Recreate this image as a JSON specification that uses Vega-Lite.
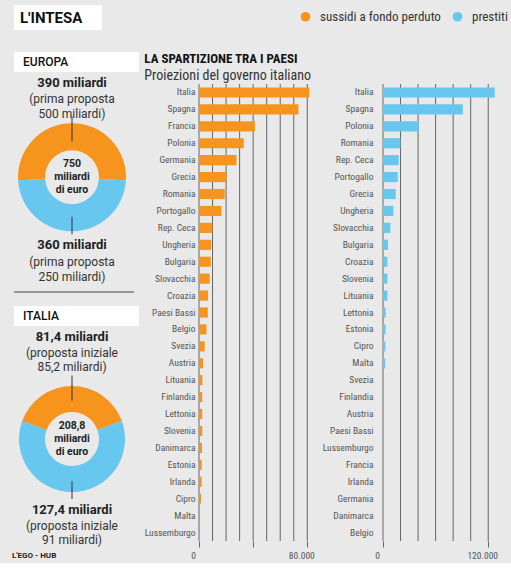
{
  "$schema": "https://vega.github.io/schema/vega-lite/v6.json",
  "background": "#e9e9e9",
  "padding": {"left": 12, "top": 5, "right": 13, "bottom": 0},
  "datasets": {
    "totali": [
      {"area": "Europa", "tipo": "sussidi a fondo perduto", "miliardi": 390},
      {"area": "Europa", "tipo": "prestiti", "miliardi": 360},
      {"area": "Italia", "tipo": "sussidi a fondo perduto", "miliardi": 81.4},
      {"area": "Italia", "tipo": "prestiti", "miliardi": 127.4}
    ],
    "griglia_sussidi": [
      {"valore": 0}, {"valore": 10000}, {"valore": 20000}, {"valore": 30000}, {"valore": 40000},
      {"valore": 50000}, {"valore": 60000}, {"valore": 70000}, {"valore": 80000}
    ],
    "griglia_prestiti": [
      {"valore": 0}, {"valore": 20000}, {"valore": 40000}, {"valore": 60000},
      {"valore": 80000}, {"valore": 100000}, {"valore": 120000}
    ],
    "paesi": [
      {"paese": "Italia", "tipo": "sussidi a fondo perduto", "milioni": 81400},
      {"paese": "Spagna", "tipo": "sussidi a fondo perduto", "milioni": 73500},
      {"paese": "Francia", "tipo": "sussidi a fondo perduto", "milioni": 41300},
      {"paese": "Polonia", "tipo": "sussidi a fondo perduto", "milioni": 33100},
      {"paese": "Germania", "tipo": "sussidi a fondo perduto", "milioni": 27700},
      {"paese": "Grecia", "tipo": "sussidi a fondo perduto", "milioni": 20300},
      {"paese": "Romania", "tipo": "sussidi a fondo perduto", "milioni": 19000},
      {"paese": "Portogallo", "tipo": "sussidi a fondo perduto", "milioni": 16600},
      {"paese": "Rep. Ceca", "tipo": "sussidi a fondo perduto", "milioni": 9900},
      {"paese": "Ungheria", "tipo": "sussidi a fondo perduto", "milioni": 8900},
      {"paese": "Bulgaria", "tipo": "sussidi a fondo perduto", "milioni": 8700},
      {"paese": "Slovacchia", "tipo": "sussidi a fondo perduto", "milioni": 7900},
      {"paese": "Croazia", "tipo": "sussidi a fondo perduto", "milioni": 6700},
      {"paese": "Paesi Bassi", "tipo": "sussidi a fondo perduto", "milioni": 6500},
      {"paese": "Belgio", "tipo": "sussidi a fondo perduto", "milioni": 5500},
      {"paese": "Svezia", "tipo": "sussidi a fondo perduto", "milioni": 4200},
      {"paese": "Austria", "tipo": "sussidi a fondo perduto", "milioni": 3000},
      {"paese": "Lituania", "tipo": "sussidi a fondo perduto", "milioni": 2500},
      {"paese": "Finlandia", "tipo": "sussidi a fondo perduto", "milioni": 2400},
      {"paese": "Lettonia", "tipo": "sussidi a fondo perduto", "milioni": 2400},
      {"paese": "Slovenia", "tipo": "sussidi a fondo perduto", "milioni": 2400},
      {"paese": "Danimarca", "tipo": "sussidi a fondo perduto", "milioni": 2200},
      {"paese": "Estonia", "tipo": "sussidi a fondo perduto", "milioni": 2000},
      {"paese": "Irlanda", "tipo": "sussidi a fondo perduto", "milioni": 2000},
      {"paese": "Cipro", "tipo": "sussidi a fondo perduto", "milioni": 1500},
      {"paese": "Malta", "tipo": "sussidi a fondo perduto", "milioni": 500},
      {"paese": "Lussemburgo", "tipo": "sussidi a fondo perduto", "milioni": 200},
      {"paese": "Italia", "tipo": "prestiti", "milioni": 127400},
      {"paese": "Spagna", "tipo": "prestiti", "milioni": 91000},
      {"paese": "Polonia", "tipo": "prestiti", "milioni": 40800},
      {"paese": "Romania", "tipo": "prestiti", "milioni": 19800},
      {"paese": "Rep. Ceca", "tipo": "prestiti", "milioni": 17900},
      {"paese": "Portogallo", "tipo": "prestiti", "milioni": 16800},
      {"paese": "Grecia", "tipo": "prestiti", "milioni": 14500},
      {"paese": "Ungheria", "tipo": "prestiti", "milioni": 11800},
      {"paese": "Slovacchia", "tipo": "prestiti", "milioni": 8400},
      {"paese": "Bulgaria", "tipo": "prestiti", "milioni": 5700},
      {"paese": "Croazia", "tipo": "prestiti", "milioni": 5000},
      {"paese": "Slovenia", "tipo": "prestiti", "milioni": 5000},
      {"paese": "Lituania", "tipo": "prestiti", "milioni": 5000},
      {"paese": "Lettonia", "tipo": "prestiti", "milioni": 3000},
      {"paese": "Estonia", "tipo": "prestiti", "milioni": 3000},
      {"paese": "Cipro", "tipo": "prestiti", "milioni": 2700},
      {"paese": "Malta", "tipo": "prestiti", "milioni": 2500},
      {"paese": "Svezia", "tipo": "prestiti", "milioni": 0},
      {"paese": "Finlandia", "tipo": "prestiti", "milioni": 0},
      {"paese": "Austria", "tipo": "prestiti", "milioni": 0},
      {"paese": "Paesi Bassi", "tipo": "prestiti", "milioni": 0},
      {"paese": "Lussemburgo", "tipo": "prestiti", "milioni": 0},
      {"paese": "Francia", "tipo": "prestiti", "milioni": 0},
      {"paese": "Irlanda", "tipo": "prestiti", "milioni": 0},
      {"paese": "Germania", "tipo": "prestiti", "milioni": 0},
      {"paese": "Danimarca", "tipo": "prestiti", "milioni": 0},
      {"paese": "Belgio", "tipo": "prestiti", "milioni": 0}
    ]
  },
  "config": {
    "view": {"stroke": null},
    "font": "Roboto",
    "title": {"font": "Roboto", "color": "#1a1a1a", "subtitleFont": "Roboto", "subtitleColor": "#333333"},
    "axis": {"labelFont": "Liberation Sans Narrow, Roboto Condensed, DejaVu Sans Condensed, sans-serif", "labelColor": "#555555", "labelFontSize": 9.5}
  },
  "spacing": 5,
  "hconcat": [
    {
      "spacing": 22,
      "vconcat": [
        {
          "width": 88,
          "height": 25,
          "view": {"fill": "#ffffff", "stroke": null},
          "data": {"values": [{"titolo": "L'INTESA"}]},
          "mark": {"type": "text", "align": "left", "baseline": "middle", "dx": 6, "fontSize": 15, "fontWeight": "bold", "color": "#111111"},
          "encoding": {
            "text": {"field": "titolo"},
            "x": {"datum": 0, "scale": {"domain": [0, 1]}, "axis": null}
          }
        },
        {
          "spacing": 4,
          "vconcat": [
            {
              "width": 125,
              "height": 20,
              "view": {"fill": "#ffffff", "stroke": null},
              "data": {"values": [{"etichetta": "EUROPA"}]},
              "mark": {"type": "text", "align": "left", "baseline": "middle", "dx": 9, "fontSize": 12, "fontWeight": 500, "color": "#111111"},
              "encoding": {
                "text": {"field": "etichetta"},
                "x": {"datum": 0, "scale": {"domain": [0, 1]}, "axis": null}
              }
            },
            {
              "width": 116,
              "height": 96.35,
              "title": {"text": "390 miliardi", "subtitle": ["(prima proposta", "500 miliardi)"], "fontSize": 13, "fontWeight": "bold", "color": "#222222", "subtitleFontSize": 12, "subtitleLineHeight": 15, "subtitlePadding": 4.3, "offset": -3.6, "anchor": "middle"},
              "layer": [
                {
                  "data": {"name": "totali"},
                  "transform": [{"filter": "datum.area === 'Europa'"}],
                  "mark": {"type": "arc", "radius": 54, "radius2": 27},
                  "encoding": {
                    "theta": {"field": "miliardi", "type": "quantitative", "stack": true, "scale": {"range": [-1.6336, 4.6496]}},
                    "order": {"field": "tipo", "sort": "descending"},
                    "color": {"field": "tipo", "type": "nominal", "scale": {"domain": ["sussidi a fondo perduto", "prestiti"], "range": ["#f7941d", "#67c7ee"]}, "legend": {"title": null, "orient": "none", "legendX": 285, "legendY": 5, "direction": "horizontal", "symbolType": "circle", "symbolSize": 95, "symbolStrokeWidth": 0, "labelFont": "Liberation Sans Narrow, Roboto Condensed, DejaVu Sans Condensed, sans-serif", "labelFontSize": 13, "labelColor": "#333333", "labelOffset": 8, "columnPadding": 10, "padding": 0}}
                  }
                },
                {
                  "data": {"values": [{"centro": ["750", "miliardi", "di euro"]}]},
                  "mark": {"type": "text", "fontSize": 10.5, "fontWeight": "bold", "lineHeight": 13.3, "baseline": "middle", "dy": -13.3, "color": "#222222"},
                  "encoding": {"text": {"field": "centro"}}
                },
                {
                  "data": {"values": [{"tratto": "alto"}, {"tratto": "basso"}]},
                  "mark": {"type": "tick", "orient": "vertical", "thickness": 1, "color": "#333333", "opacity": 1},
                  "encoding": {
                    "x": {"datum": 0, "type": "quantitative", "scale": {"domain": [-1, 1]}, "axis": null},
                    "y": {"field": "tratto", "type": "nominal", "scale": {"type": "point", "domain": ["alto", "basso"], "padding": 0}, "axis": null},
                    "size": {"field": "tratto", "type": "nominal", "scale": {"domain": ["alto", "basso"], "range": [25, 17.7]}, "legend": null}
                  }
                }
              ]
            },
            {
              "width": 120,
              "height": 9.5,
              "title": {"text": "360 miliardi", "subtitle": ["(prima proposta", "250 miliardi)"], "fontSize": 13, "fontWeight": "bold", "color": "#222222", "subtitleFontSize": 12, "subtitleLineHeight": 15, "subtitlePadding": 4.3, "offset": 9, "anchor": "middle", "dx": -2},
              "data": {"values": [{"linea": "separatore"}]},
              "mark": {"type": "rule", "color": "#444444", "strokeWidth": 1},
              "encoding": {"y": {"datum": 1, "scale": {"domain": [0, 1]}, "axis": null}}
            },
            {
              "width": 125,
              "height": 20,
              "view": {"fill": "#ffffff", "stroke": null},
              "data": {"values": [{"etichetta": "ITALIA"}]},
              "mark": {"type": "text", "align": "left", "baseline": "middle", "dx": 9, "fontSize": 12, "fontWeight": 500, "color": "#111111"},
              "encoding": {
                "text": {"field": "etichetta"},
                "x": {"datum": 0, "scale": {"domain": [0, 1]}, "axis": null}
              }
            },
            {
              "width": 116,
              "height": 102.15,
              "title": {"text": "81,4 miliardi", "subtitle": ["(proposta iniziale", "85,2 miliardi)"], "fontSize": 13, "fontWeight": "bold", "color": "#222222", "subtitleFontSize": 12, "subtitleLineHeight": 14.3, "subtitlePadding": 3.7, "offset": 2.7, "anchor": "middle"},
              "layer": [
                {
                  "data": {"name": "totali"},
                  "transform": [{"filter": "datum.area === 'Italia'"}],
                  "mark": {"type": "arc", "radius": 53, "radius2": 27},
                  "encoding": {
                    "theta": {"field": "miliardi", "type": "quantitative", "stack": true, "scale": {"range": [-1.2247, 5.0585]}},
                    "order": {"field": "tipo", "sort": "descending"},
                    "color": {"field": "tipo", "type": "nominal", "scale": {"domain": ["sussidi a fondo perduto", "prestiti"], "range": ["#f7941d", "#67c7ee"]}, "legend": {"title": null, "orient": "none", "legendX": 285, "legendY": 5, "direction": "horizontal", "symbolType": "circle", "symbolSize": 95, "symbolStrokeWidth": 0, "labelFont": "Liberation Sans Narrow, Roboto Condensed, DejaVu Sans Condensed, sans-serif", "labelFontSize": 13, "labelColor": "#333333", "labelOffset": 8, "columnPadding": 10, "padding": 0}}
                  }
                },
                {
                  "data": {"values": [{"centro": ["208,8", "miliardi", "di euro"]}]},
                  "mark": {"type": "text", "fontSize": 10.5, "fontWeight": "bold", "lineHeight": 13.3, "baseline": "middle", "dy": -13.3, "color": "#222222"},
                  "encoding": {"text": {"field": "centro"}}
                },
                {
                  "data": {"values": [{"tratto": "alto"}, {"tratto": "basso"}]},
                  "mark": {"type": "tick", "orient": "vertical", "thickness": 1, "color": "#333333", "opacity": 1},
                  "encoding": {
                    "x": {"datum": 0, "type": "quantitative", "scale": {"domain": [-1, 1]}, "axis": null},
                    "y": {"field": "tratto", "type": "nominal", "scale": {"type": "point", "domain": ["alto", "basso"], "padding": 0}, "axis": null},
                    "size": {"field": "tratto", "type": "nominal", "scale": {"domain": ["alto", "basso"], "range": [16.3, 10]}, "legend": null}
                  }
                }
              ]
            },
            {
              "width": 120,
              "height": 14,
              "title": {"text": "127,4 miliardi", "subtitle": ["(proposta iniziale", "91 miliardi)"], "fontSize": 13, "fontWeight": "bold", "color": "#222222", "subtitleFontSize": 12, "subtitleLineHeight": 14.3, "subtitlePadding": 3.7, "offset": 3, "anchor": "middle", "dx": -2},
              "data": {"values": [{"fonte": "L'EGO - HUB"}]},
              "mark": {"type": "text", "align": "left", "baseline": "middle", "dx": -2, "fontSize": 8, "fontWeight": "bold", "color": "#222222"},
              "encoding": {
                "text": {"field": "fonte"},
                "x": {"datum": 0, "scale": {"domain": [0, 1]}, "axis": null}
              }
            }
          ]
        }
      ]
    },
    {
      "spacing": 46,
      "vconcat": [
        {
          "width": 1,
          "height": 1,
          "data": {"values": []},
          "mark": {"type": "point"}
        },
        {
          "title": {"text": "LA SPARTIZIONE TRA I PAESI", "subtitle": "Proiezioni del governo italiano", "anchor": "start", "frame": "bounds", "font": "Liberation Sans Narrow, Roboto Condensed, DejaVu Sans Condensed, sans-serif", "fontSize": 13, "fontWeight": "bold", "color": "#111111", "subtitleFont": "Liberation Sans Narrow, Roboto Condensed, DejaVu Sans Condensed, sans-serif", "subtitleFontSize": 14, "subtitleColor": "#333333", "subtitlePadding": 3, "offset": 1},
          "spacing": 7,
          "hconcat": [
            {
              "width": 111,
              "height": 457,
              "layer": [
                {
                  "data": {"name": "griglia_sussidi"},
                  "mark": {"type": "rule", "color": "#666666", "strokeWidth": 1},
                  "encoding": {
                    "x": {"field": "valore", "type": "quantitative"}
                  }
                },
                {
                  "data": {"name": "paesi"},
                  "transform": [{"filter": "datum.tipo === 'sussidi a fondo perduto'"}],
                  "mark": {"type": "bar"},
                  "encoding": {
                    "y": {"field": "paese", "type": "nominal", "sort": null, "scale": {"paddingInner": 0.4, "paddingOuter": 0.2}, "axis": {"title": null, "domain": false, "ticks": false, "labelPadding": 4}},
                    "x": {"field": "milioni", "type": "quantitative", "scale": {"domain": [0, 82000], "nice": false}, "axis": {"title": null, "values": [0, 10000, 20000, 30000, 40000, 50000, 60000, 70000, 80000], "grid": false, "domain": false, "ticks": true, "tickColor": "#666666", "tickSize": 6, "labelPadding": 3, "labelOffset": -6, "labelFlush": false, "labelOverlap": false, "labelExpr": "datum.value === 0 ? '0' : datum.value === 80000 ? '80.000' : ''"}},
                    "color": {"field": "tipo", "type": "nominal", "scale": {"domain": ["sussidi a fondo perduto", "prestiti"], "range": ["#f7941d", "#67c7ee"]}, "legend": {"title": null, "orient": "none", "legendX": 285, "legendY": 5, "direction": "horizontal", "symbolType": "circle", "symbolSize": 95, "symbolStrokeWidth": 0, "labelFont": "Liberation Sans Narrow, Roboto Condensed, DejaVu Sans Condensed, sans-serif", "labelFontSize": 13, "labelColor": "#333333", "labelOffset": 8, "columnPadding": 10, "padding": 0}}
                  }
                }
              ]
            },
            {
              "width": 114,
              "height": 457,
              "layer": [
                {
                  "data": {"name": "griglia_prestiti"},
                  "mark": {"type": "rule", "color": "#666666", "strokeWidth": 1},
                  "encoding": {
                    "x": {"field": "valore", "type": "quantitative"}
                  }
                },
                {
                  "data": {"name": "paesi"},
                  "transform": [{"filter": "datum.tipo === 'prestiti'"}],
                  "mark": {"type": "bar"},
                  "encoding": {
                    "y": {"field": "paese", "type": "nominal", "sort": null, "scale": {"paddingInner": 0.4, "paddingOuter": 0.2}, "axis": {"title": null, "domain": false, "ticks": false, "labelPadding": 10}},
                    "x": {"field": "milioni", "type": "quantitative", "scale": {"domain": [0, 130000], "nice": false}, "axis": {"title": null, "values": [0, 20000, 40000, 60000, 80000, 100000, 120000], "grid": false, "domain": false, "ticks": true, "tickColor": "#666666", "tickSize": 6, "labelPadding": 3, "labelOffset": -6, "labelFlush": false, "labelOverlap": false, "labelExpr": "datum.value === 0 ? '0' : datum.value === 120000 ? '120.000' : ''"}},
                    "color": {"field": "tipo", "type": "nominal", "scale": {"domain": ["sussidi a fondo perduto", "prestiti"], "range": ["#f7941d", "#67c7ee"]}, "legend": {"title": null, "orient": "none", "legendX": 285, "legendY": 5, "direction": "horizontal", "symbolType": "circle", "symbolSize": 95, "symbolStrokeWidth": 0, "labelFont": "Liberation Sans Narrow, Roboto Condensed, DejaVu Sans Condensed, sans-serif", "labelFontSize": 13, "labelColor": "#333333", "labelOffset": 8, "columnPadding": 10, "padding": 0}}
                  }
                }
              ]
            }
          ]
        }
      ]
    }
  ]
}
